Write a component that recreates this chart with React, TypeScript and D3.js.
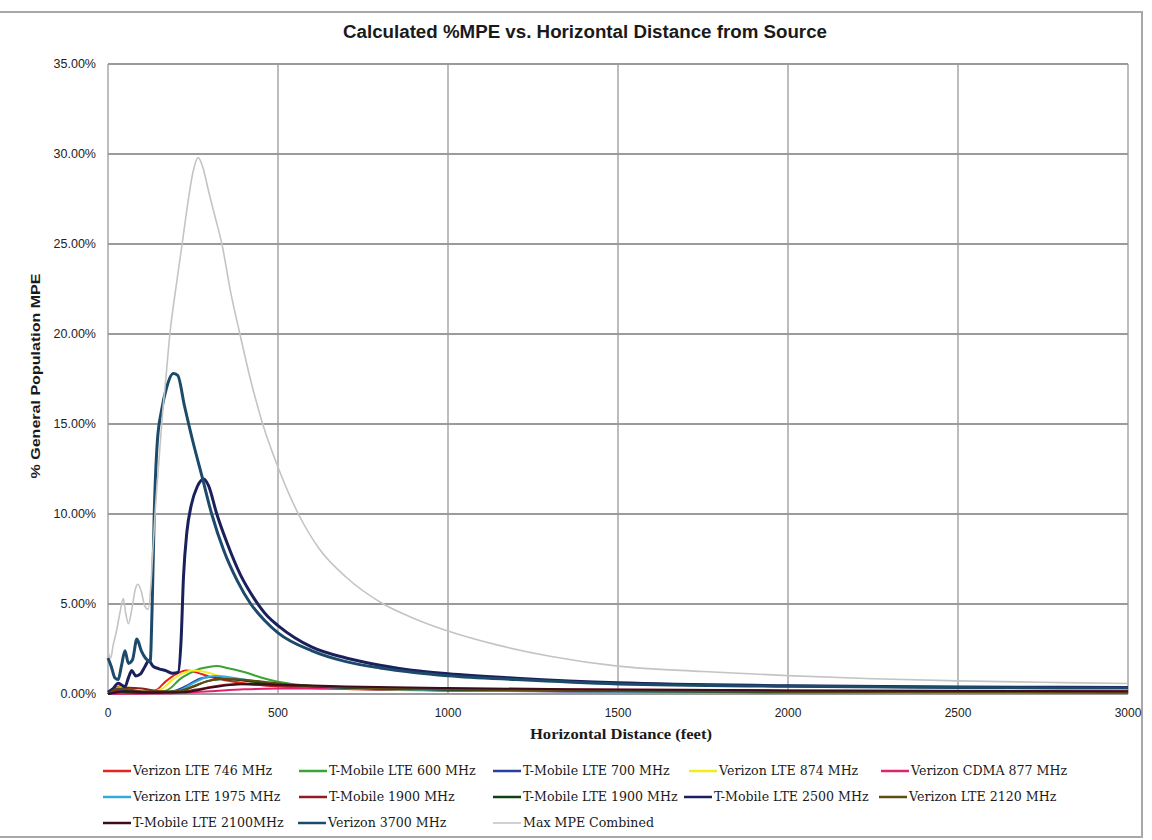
import * as d3 from 'd3';

// distance (feet) / %MPE pairs
const verizon746: [number, number][] = [[0,0],[20,0.3],[40,0.45],[60,0.3],[80,0.15],[110,0.1],[140,0.2],[170,0.7],[200,1.1],[230,1.3],[260,1.2],[300,0.95],[350,0.75],[400,0.6],[500,0.42],[700,0.28],[1000,0.2],[1500,0.14],[2000,0.1],[3000,0.08]];
const tmobile600: [number, number][] = [[0,0],[40,0.15],[80,0.1],[150,0.1],[185,0.35],[210,0.8],[240,1.15],[270,1.4],[300,1.52],[320,1.55],[350,1.45],[400,1.22],[450,0.92],[500,0.68],[600,0.45],[800,0.3],[1000,0.22],[1500,0.15],[2000,0.12],[3000,0.09]];
const tmobile700: [number, number][] = [[0,0],[40,0.2],[80,0.1],[150,0.05],[200,0.2],[240,0.55],[270,0.85],[300,0.95],[330,0.95],[370,0.85],[420,0.7],[500,0.5],[700,0.3],[1000,0.2],[1500,0.13],[2000,0.1],[3000,0.07]];
const verizon874: [number, number][] = [[0,0],[30,0.35],[50,0.4],[80,0.2],[120,0.1],[160,0.3],[190,0.8],[220,1.15],[250,1.3],[280,1.25],[320,1.05],[370,0.85],[420,0.7],[500,0.5],[700,0.32],[1000,0.22],[1500,0.15],[2000,0.11],[3000,0.08]];
const verizonCdma877: [number, number][] = [[0,0],[100,0.02],[200,0.05],[300,0.15],[400,0.26],[500,0.3],[700,0.31],[1000,0.28],[1500,0.24],[2000,0.2],[3000,0.15]];
const verizon1975: [number, number][] = [[0,0],[50,0.1],[150,0.05],[210,0.2],[250,0.6],[285,0.9],[315,1.0],[350,0.95],[400,0.8],[500,0.55],[700,0.33],[1000,0.22],[1500,0.14],[2000,0.1],[3000,0.07]];
const tmobile1900: [number, number][] = [[0,0],[30,0.25],[60,0.35],[100,0.3],[150,0.15],[200,0.1],[260,0.25],[320,0.45],[380,0.55],[450,0.5],[600,0.4],[800,0.32],[1000,0.27],[1500,0.2],[2000,0.15],[3000,0.11]];
const tmobileLte1900: [number, number][] = [[0,0],[40,0.1],[100,0.05],[200,0.1],[250,0.4],[290,0.7],[330,0.82],[370,0.8],[420,0.7],[500,0.55],[700,0.35],[1000,0.24],[1500,0.16],[2000,0.12],[3000,0.09]];
const tmobile2500: [number, number][] = [[0,0.1],[15,0.3],[30,0.6],[40,0.5],[50,0.4],[60,0.9],[70,1.3],[82,1.0],[95,1.1],[108,1.5],[120,1.85],[132,1.55],[150,1.4],[170,1.3],[190,1.15],[206,1.2],[215,3.0],[222,6.5],[232,9.0],[245,10.5],[262,11.5],[282,11.95],[295,11.6],[320,10.0],[350,8.4],[390,6.6],[430,5.3],[470,4.3],[500,3.8],[600,2.6],[700,2.0],[800,1.6],[900,1.3],[1000,1.12],[1200,0.88],[1500,0.62],[2000,0.46],[2500,0.39],[3000,0.36]];
const verizon2120: [number, number][] = [[0,0],[30,0.3],[60,0.25],[100,0.15],[200,0.15],[260,0.5],[300,0.75],[340,0.85],[390,0.8],[450,0.7],[550,0.5],[700,0.38],[1000,0.26],[1500,0.17],[2000,0.13],[3000,0.1]];
const tmobile2100: [number, number][] = [[0,0],[50,0.15],[120,0.1],[220,0.1],[300,0.35],[360,0.5],[420,0.55],[500,0.52],[700,0.42],[1000,0.33],[1500,0.25],[2000,0.2],[3000,0.15]];
const verizon3700: [number, number][] = [[0,2.0],[10,1.5],[20,0.9],[30,0.8],[40,1.6],[50,2.4],[60,1.7],[72,1.9],[85,3.05],[98,2.4],[110,2.0],[124,1.8],[130,5.0],[136,10.0],[145,14.0],[158,15.8],[172,17.0],[192,17.8],[205,17.7],[225,16.0],[250,14.0],[275,12.2],[305,10.0],[340,8.0],[380,6.3],[420,5.0],[460,4.1],[500,3.4],[600,2.4],[700,1.8],[800,1.45],[900,1.2],[1000,1.02],[1200,0.8],[1500,0.56],[2000,0.43],[2500,0.36],[3000,0.33]];
const maxCombined: [number, number][] = [[0,2.4],[8,2.0],[15,2.7],[25,3.5],[35,4.5],[45,5.3],[52,4.5],[60,3.9],[70,4.7],[80,5.8],[88,6.1],[98,5.7],[108,4.9],[118,4.7],[126,6.0],[132,8.0],[140,10.5],[150,13.0],[160,15.5],[170,17.5],[182,20.0],[200,22.6],[218,25.0],[235,27.3],[250,29.0],[265,29.8],[280,29.2],[295,28.0],[315,26.5],[335,25.0],[360,22.4],[388,20.0],[420,17.4],[455,15.0],[500,12.6],[560,10.0],[620,8.1],[700,6.5],[810,5.0],[900,4.2],[1000,3.5],[1150,2.7],[1300,2.1],[1500,1.55],[1750,1.25],[2000,1.02],[2250,0.85],[2500,0.73],[2750,0.65],[3000,0.58]];

const seriesNames = [
  'Verizon LTE 746 MHz', 'T-Mobile LTE 600 MHz', 'T-Mobile LTE 700 MHz', 'Verizon LTE 874 MHz', 'Verizon CDMA 877 MHz',
  'Verizon LTE 1975 MHz', 'T-Mobile 1900 MHz', 'T-Mobile LTE 1900 MHz', 'T-Mobile LTE 2500 MHz', 'Verizon LTE 2120 MHz',
  'T-Mobile LTE 2100MHz', 'Verizon 3700 MHz', 'Max MPE Combined',
];
const seriesData = [
  verizon746, tmobile600, tmobile700, verizon874, verizonCdma877,
  verizon1975, tmobile1900, tmobileLte1900, tmobile2500, verizon2120,
  tmobile2100, verizon3700, maxCombined,
];
const seriesColors = [
  '#e3241f', '#3aa335', '#2a3f9c', '#f2ec1f', '#e2236c',
  '#37a8dc', '#8c1d20', '#0e420f', '#1b1f5c', '#5f4d12',
  '#3b0d1e', '#1c4a6a', '#c4c4c4',
];
const seriesWidths = [2, 2, 2, 2, 2, 2, 2, 2, 3, 2, 2, 3, 1.6];

const xTicks = [0, 500, 1000, 1500, 2000, 2500, 3000];
const yTicks = [0, 5, 10, 15, 20, 25, 30, 35];

// legend slot positions (left of the line sample) and row
const legendSlots: [number, number][] = [
  [103, 0], [299, 0], [493, 0], [689, 0], [881, 0],
  [103, 1], [299, 1], [493, 1], [684, 1], [879, 1],
  [103, 2], [298, 2], [493, 2],
];
const legendRowY = [771, 797, 823];

const W = 1152;
const H = 840;
const margin = { left: 108, right: 24, top: 64, bottom: 146 };

export default function App() {
  const x = d3.scaleLinear().domain([0, 3000]).range([margin.left, W - margin.right]);
  const y = d3.scaleLinear().domain([0, 35]).range([H - margin.bottom, margin.top]);
  const line = d3.line<[number, number]>()
    .x(d => x(d[0]))
    .y(d => y(d[1]))
    .curve(d3.curveMonotoneX);

  return (
    <svg width={W} height={H} style={{ position: 'absolute', left: 0, top: 0, background: '#fff' }}>
      {/* outer chart frame */}
      <rect x={-2} y={12} width={1144} height={825} fill="none" stroke="#a8a8a8" strokeWidth={2} />

      <text x={585} y={38} textAnchor="middle" fontFamily="'Liberation Sans Narrow', 'Liberation Sans', sans-serif"
        fontWeight="bold" fontSize={18} fill="#1a1a1a" textLength={484} lengthAdjust="spacingAndGlyphs">
        Calculated %MPE vs. Horizontal Distance from Source
      </text>

      {/* grid */}
      {yTicks.map(t => (
        <line key={'gy' + t} x1={x(0)} x2={x(3000)} y1={y(t)} y2={y(t)} stroke="#7a7a7a" strokeWidth={1.3} />
      ))}
      {xTicks.map(t => (
        <line key={'gx' + t} x1={x(t)} x2={x(t)} y1={y(0)} y2={y(35)} stroke="#9a9a9a" strokeWidth={1.3} />
      ))}

      {/* series */}
      {seriesData.map((d, i) => (
        <path key={'s' + i} d={line(d) ?? ''} fill="none" stroke={seriesColors[i]} strokeWidth={seriesWidths[i]}
          strokeLinejoin="round" />
      ))}

      {/* y ticks */}
      {yTicks.map(t => (
        <text key={'ty' + t} x={96} y={y(t)} dy="0.35em" textAnchor="end" fontFamily="'Liberation Sans', Arial, sans-serif"
          fontSize={12.5} fill="#222">
          {d3.format('.2f')(t) + '%'}
        </text>
      ))}
      {/* x ticks */}
      {xTicks.map(t => (
        <text key={'tx' + t} x={x(t)} y={717} textAnchor="middle" fontFamily="'Liberation Sans', Arial, sans-serif"
          fontSize={12} fill="#222">
          {t}
        </text>
      ))}

      <text x={621} y={739} textAnchor="middle" fontFamily="'Liberation Serif', serif" fontWeight="bold" fontSize={14}
        fill="#1a1a1a" textLength={182} lengthAdjust="spacingAndGlyphs">
        Horizontal Distance (feet)
      </text>
      <text transform={`translate(40,${y(17.5) - 3}) rotate(-90)`} textAnchor="middle"
        fontFamily="'Liberation Sans Narrow', 'Liberation Sans', sans-serif" fontWeight="bold" fontSize={13}
        fill="#1a1a1a" textLength={205} lengthAdjust="spacingAndGlyphs">
        % General Population MPE
      </text>

      {/* legend */}
      {seriesNames.map((name, i) => {
        const [lx, row] = legendSlots[i];
        const ly = legendRowY[row];
        return (
          <g key={'lg' + i}>
            <line x1={lx} x2={lx + 28} y1={ly} y2={ly} stroke={seriesColors[i]} strokeWidth={i === 12 ? 1.6 : 2.5} />
            <text x={lx + 30} y={ly} dy="0.35em" fontFamily="'DejaVu Serif', serif" fontSize={12.6} fill="#1a1a1a">
              {name}
            </text>
          </g>
        );
      })}
    </svg>
  );
}
